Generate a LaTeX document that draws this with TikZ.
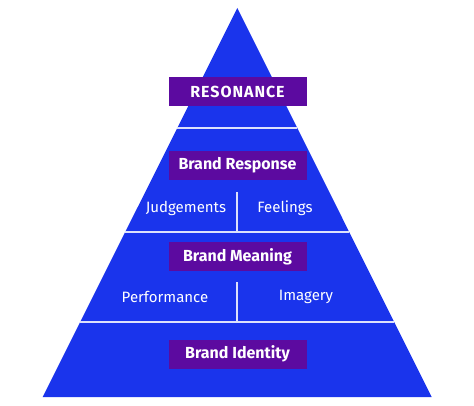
\documentclass[tikz,border=0pt]{standalone}
\usepackage{fontspec}
\setmainfont{Fira Sans}
\usetikzlibrary{calc}
\definecolor{pyrblue}{RGB}{26,52,236}
\definecolor{boxpurple}{RGB}{92,10,160}
\tikzset{
	levelbox/.style={fill=boxpurple, text=white, font=\fontsize{16}{18}\selectfont\bfseries, minimum width=138pt, minimum height=29pt, inner sep=0pt},
	sublabel/.style={text=white, font=\fontsize{15}{17}\selectfont, inner sep=0pt},
	split/.style={draw=white!85!pyrblue, line width=1.6pt}
}

\begin{document}
\begin{tikzpicture}[x=1pt, y=-1pt]
		%%%%% START %%%%%
		\useasboundingbox (0, 0) rectangle (474, 406);
		
		\fill[pyrblue] (237.3, 8) -- (431.7, 397) -- (42.7, 397) -- cycle;
		
		\draw[split] (177.3, 128) -- (297.3, 128);
		\draw[split] (125.3, 232) -- (349.3, 232);
		\draw[split] (80.3, 322) -- (394.3, 322);
		
		\draw[split, line width=1.3pt] (237, 192) -- (237, 232);
		\draw[split, line width=1.3pt] (237, 282) -- (237, 322);
		
		\node[levelbox] (resonance) at (237.5, 91.5) {\addfontfeatures{LetterSpace=6}RESONANCE};
		\node[levelbox] (response) at (237.5, 165.5) {Brand Response};
		\node[levelbox] (meaning) at (237.5, 256.5) {Brand Meaning};
		\node[levelbox] (identity) at (237.5, 354) {Brand Identity};
		
		\node[sublabel] (judgements) at (186, 208) {Judgements};
		\node[sublabel] (feelings) at (285, 208) {Feelings};
		\node[sublabel] (performance) at (165, 297) {Performance};
		\node[sublabel] (imagery) at (306, 297) {Imagery};
		
		%%%%% END %%%%%
	\end{tikzpicture}
\end{document}
